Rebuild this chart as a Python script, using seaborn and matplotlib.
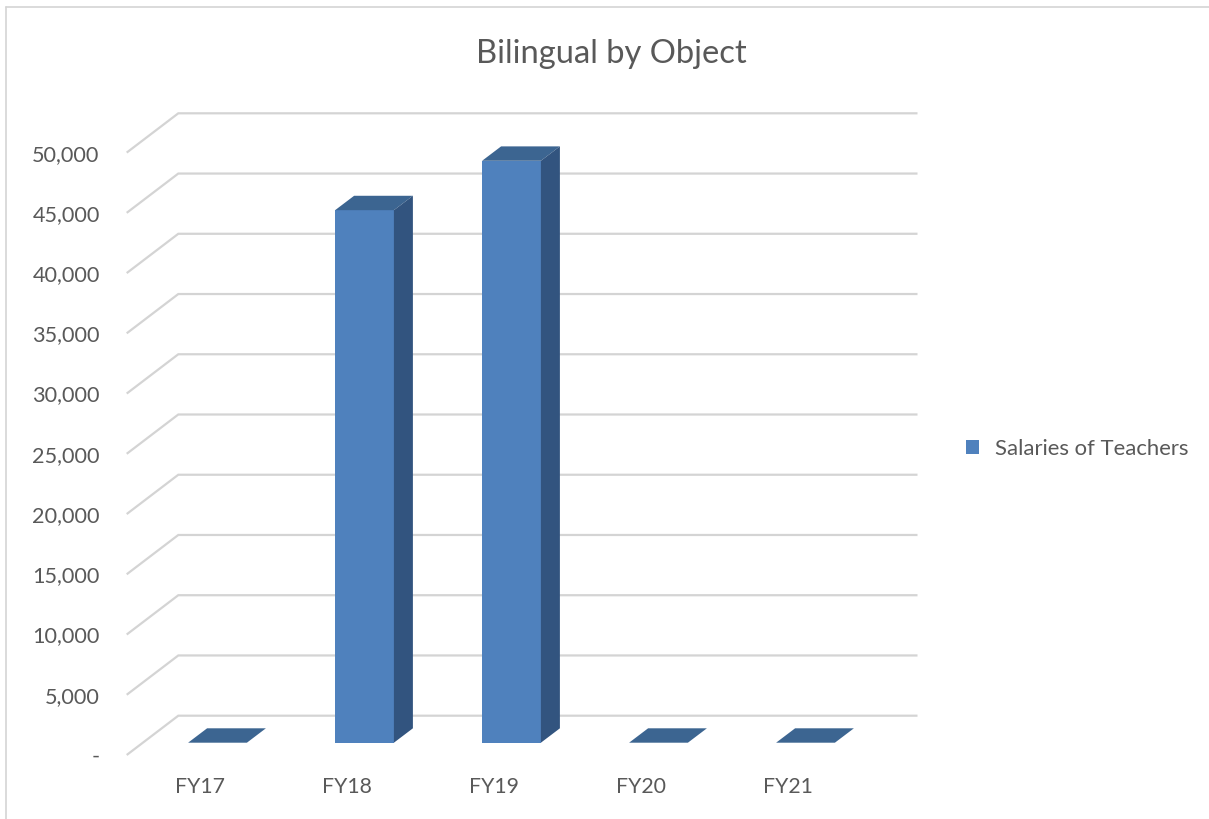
import numpy as np
import pandas as pd
import seaborn as sns
import matplotlib.pyplot as plt
from matplotlib.patches import Polygon, Patch
from matplotlib.lines import Line2D

# ---- data ----
categories = ["FY17", "FY18", "FY19", "FY20", "FY21"]
salaries_of_teachers = [0, 44200, 48300, 0, 0]
series_name = "Salaries of Teachers"
y_ticks = list(range(0, 50001, 5000))
y_tick_labels = ["-"] + [f"{v:,}" for v in y_ticks[1:]]
title = "Bilingual by Object"

# ---- style ----
FRONT = "#4F81BD"
TOP = "#3C6591"
SIDE = "#32547F"
GRID = "#D4D4D4"
TEXT = "#595959"

sns.set_theme(style="white")
plt.rcParams["font.family"] = ["Lato", "DejaVu Sans"]

W, H = 1209, 819
fig = plt.figure(figsize=(W / 100, H / 100), dpi=100)
fig.patch.set_facecolor("white")

# front plane of the bars
ax_left, ax_right = 144.0, 879.0
ax_bottom, ax_top = 742.7, 140.3
ax = fig.add_axes([ax_left / W, (H - ax_bottom) / H,
                   (ax_right - ax_left) / W, (ax_bottom - ax_top) / H])
n = len(categories)
xlim = (-0.5, n - 0.5)
ylim = (0, 50000)

px_per_x = (ax_right - ax_left) / (xlim[1] - xlim[0])
px_per_y = (ax_bottom - ax_top) / (ylim[1] - ylim[0])


def offset(dx_px, dy_px):
    """Pixel offset (right, up) expressed in data units."""
    return dx_px / px_per_x, dy_px / px_per_y


df = pd.DataFrame({"Year": categories, "Value": salaries_of_teachers})
sns.barplot(data=df, x="Year", y="Value", width=0.4, color=FRONT,
            saturation=1, linewidth=0, ax=ax, zorder=3)
ax.set_xlim(*xlim)
ax.set_ylim(*ylim)
ax.axis("off")

# oblique depth offsets
bar_dx, bar_dy = offset(19, 14.4)
back_dx, back_dy = offset(34.3, 27)
front_dx, front_dy = offset(-17.3, -12.3)
right_extra, _ = offset(38.5, 0)

# gridlines: short diagonal on the floor side, long run on the back wall
for t in y_ticks:
    ax.plot([xlim[0] + front_dx, xlim[0] + back_dx, xlim[1] + right_extra],
            [t + front_dy, t + back_dy, t + back_dy],
            color=GRID, lw=1.6, zorder=1, clip_on=False,
            solid_joinstyle="miter", solid_capstyle="butt")

# bar tops and sides
half = 0.2
for i, v in enumerate(salaries_of_teachers):
    x0, x1 = i - half, i + half
    top = [(x0, v), (x1, v), (x1 + bar_dx, v + bar_dy), (x0 + bar_dx, v + bar_dy)]
    ax.add_patch(Polygon(top, closed=True, facecolor=TOP, edgecolor="none",
                         zorder=4, clip_on=False))
    if v > 0:
        side = [(x1, 0), (x1, v), (x1 + bar_dx, v + bar_dy), (x1 + bar_dx, bar_dy)]
        ax.add_patch(Polygon(side, closed=True, facecolor=SIDE, edgecolor="none",
                             zorder=4, clip_on=False))

# value axis labels on the front edge
lab_gap, _ = offset(27, 0)
for t, lab in zip(y_ticks, y_tick_labels):
    ax.text(xlim[0] + front_dx - lab_gap, t + front_dy, lab,
            ha="right", va="center_baseline", fontsize=15.6, color=TEXT,
            clip_on=False)

# category labels
_, cat_drop = offset(0, 30)
for i, c in enumerate(categories):
    ax.text(i + front_dx, front_dy - cat_drop, c, ha="center",
            va="center_baseline", fontsize=15.3, color=TEXT, clip_on=False)

# title
fig.text(611 / W, 1 - 63 / H, title, ha="center", va="baseline",
         fontsize=23.6, color=TEXT)

# legend
fig.legend(handles=[Patch(facecolor=FRONT, edgecolor="none")],
           labels=[series_name], loc="center left",
           bbox_to_anchor=(966 / W, 1 - 449 / H), frameon=False,
           fontsize=15.9, labelcolor=TEXT, handlelength=0.6,
           handleheight=0.6, handletextpad=0.72, borderpad=0,
           borderaxespad=0)

# chart border (left and top edges)
fig.add_artist(Line2D([5.5 / W, 5.5 / W], [0, 1 - 7.3 / H],
                      color=GRID, lw=1.2, transform=fig.transFigure))
fig.add_artist(Line2D([5.5 / W, 1], [1 - 7.3 / H, 1 - 7.3 / H],
                      color=GRID, lw=1.2, transform=fig.transFigure))

fig.savefig("out.png", dpi=100, facecolor="white")
